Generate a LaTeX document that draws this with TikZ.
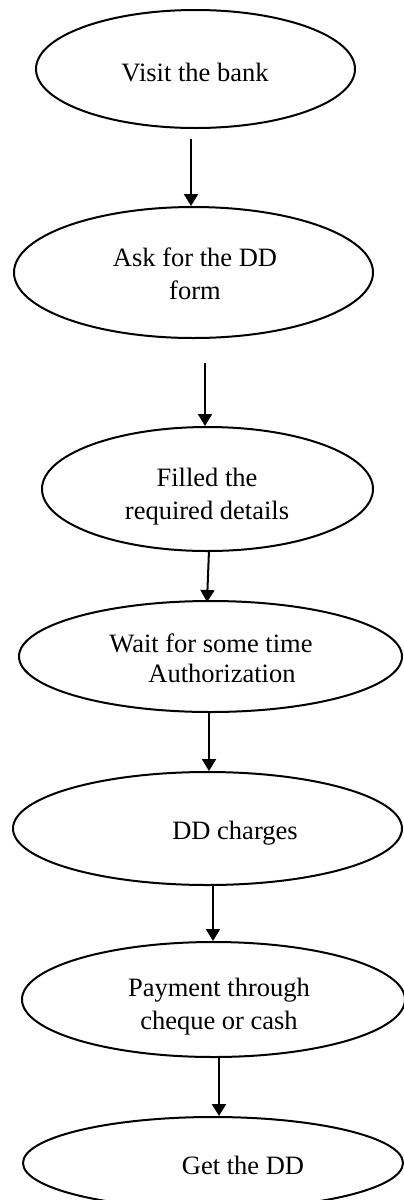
\documentclass[tikz,border=0pt]{standalone}
\usepackage{fontspec}
\setmainfont{Liberation Serif}
\usetikzlibrary{shapes.geometric,arrows.meta}
\begin{document}
\begin{tikzpicture}[x=1pt,y=-1pt,
  stepell/.style={draw, ellipse, line width=2pt, inner sep=0pt},
  steptxt/.style={anchor=base, align=center, inner sep=0pt,
    font=\fontsize{26.5pt}{33pt}\selectfont},
  arr/.style={line width=2pt, -{Triangle[width=14pt,length=12pt]}}]
\useasboundingbox (0,0) rectangle (404,1200);
% ellipses
\node[stepell, minimum width=319pt, minimum height=118pt] (e1) at (195.5,69) {};
\node[stepell, minimum width=359pt, minimum height=131pt] (e2) at (193.5,272.5) {};
\node[stepell, minimum width=331pt, minimum height=124pt] (e3) at (207.5,489) {};
\node[stepell, minimum width=383pt, minimum height=111pt] (e4) at (210.5,656.5) {};
\node[stepell, minimum width=389pt, minimum height=113pt] (e5) at (207.5,828.5) {};
\node[stepell, minimum width=383pt, minimum height=115pt] (e6) at (213.5,999.5) {};
\node[stepell, minimum width=380pt, minimum height=92pt] (e7) at (213,1163) {};
% texts (base = baseline of the last line)
\node[steptxt] (t1) at (195,81) {Visit the bank};
\node[steptxt] (t2) at (195,299) {Ask for the DD\\form};
\node[steptxt] (t3) at (207,519) {Filled the\\required details};
\node[steptxt] (t4) at (211,682) {Wait for some time\\[-3pt]\hspace*{22pt}Authorization};
\node[steptxt] (t5) at (235,839) {DD charges};
\node[steptxt] (t6) at (219,1029) {Payment through\\cheque or cash};
\node[steptxt] (t7) at (243,1174) {Get the DD};
% connector ends
\coordinate (a1) at (191,139);
\coordinate (a2) at (205,363);
\coordinate (a3) at (209,550);
\coordinate (a3e) at (207,602);
\coordinate (a4) at (209,712);
\coordinate (a5) at (213,885);
\coordinate (a6) at (219,1057);
% connectors
\draw[arr] (a1) -- (a1 |- e2.north);
\draw[arr] (a2) -- (a2 |- e3.north);
\draw[arr] (a3) -- (a3e);
\draw[arr] (a4) -- (a4 |- e5.north);
\draw[arr] (a5) -- (a5 |- e6.north);
\draw[arr] (a6) -- (a6 |- e7.north);
\end{tikzpicture}
\end{document}
